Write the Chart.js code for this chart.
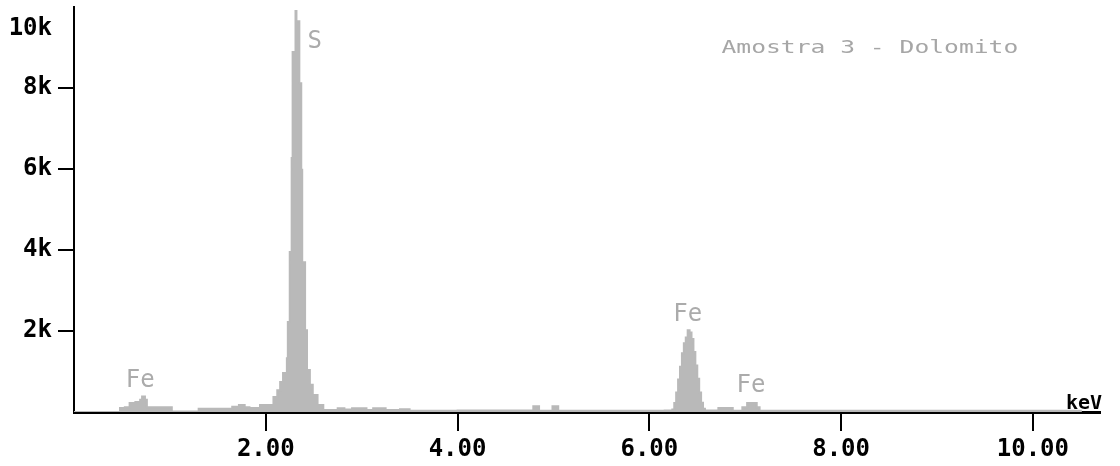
<!DOCTYPE html>
<html lang="pt">
<head>
    <meta charset="UTF-8">
    <title>Amostra 3 - Dolomito</title>
    <script src="https://cdn.jsdelivr.net/npm/chart.js"></script>
    <style>
        body { margin: 0; background: #fff; }
    </style>
</head>
<body>
    <canvas id="edsChart" width="1120" height="466"></canvas>

    <script>
        // Spectrum: left edge of each step (keV) and counts
        const energy = [
            0.00, 0.48, 0.53, 0.58, 0.64, 0.69, 0.71, 0.74, 0.76, 1.02,
            1.30, 1.65, 1.72, 1.78, 1.83, 1.94, 2.08, 2.12, 2.15, 2.18,
            2.22, 2.23, 2.25, 2.27, 2.28, 2.31, 2.32, 2.35, 2.37, 2.38,
            2.41, 2.43, 2.46, 2.49, 2.54, 2.60, 2.75, 2.82, 2.90, 3.05,
            3.12, 3.25, 3.40, 3.50, 4.00, 4.79, 4.85, 4.99, 5.05, 6.16,
            6.24, 6.26, 6.28, 6.30, 6.32, 6.34, 6.36, 6.38, 6.40, 6.42,
            6.44, 6.46, 6.48, 6.50, 6.52, 6.54, 6.56, 6.58, 6.72, 6.87,
            6.97, 7.02, 7.12, 7.15, 10.50
        ];
        const counts = [
            0, 100, 120, 220, 250, 300, 380, 300, 120, 10,
            80, 130, 170, 120, 100, 170, 370, 540, 740, 960,
            1330, 2220, 3950, 6270, 8890, 9900, 9650, 8120, 5980, 3700,
            2020, 1040, 670, 420, 170, 50, 90, 60, 90, 50,
            90, 50, 70, 30, 40, 140, 30, 140, 30, 40,
            60, 220, 480, 800, 1120, 1450, 1700, 1840, 2020, 1960,
            1800, 1480, 1150, 820, 480, 230, 80, 40, 100, 30,
            120, 220, 120, 30, 0
        ];

        // Axis ticks
        const xTicks = [2, 4, 6, 8, 10];
        const yTicks = [2000, 4000, 6000, 8000];

        // Element labels over the peaks (keV, counts)
        const peakNames = ['Fe', 'S', 'Fe', 'Fe'];
        const peakEnergy = [0.69, 2.51, 6.40, 7.06];
        const peakCounts = [620, 8990, 2250, 494];

        const sampleTitle = 'Amostra 3 - Dolomito';
        const mono = '"DejaVu Sans Mono", monospace';
        const fillGrey = '#b9b9b9';

        // Draws the title, peak names, full-scale label and unit
        const textPlugin = {
            id: 'spectrumText',
            afterDatasetsDraw(chart) {
                const ctx = chart.ctx;
                const xs = chart.scales.x;
                const ys = chart.scales.y;
                const area = chart.chartArea;
                ctx.save();

                // peak names
                ctx.fillStyle = '#ababab';
                ctx.font = '24px ' + mono;
                ctx.textAlign = 'center';
                ctx.textBaseline = 'alphabetic';
                peakNames.forEach((name, i) => {
                    ctx.fillText(name, xs.getPixelForValue(peakEnergy[i]), ys.getPixelForValue(peakCounts[i]));
                });

                // sample title, stretched wide like the instrument font
                const tx = xs.getPixelForValue(8.3);
                const ty = ys.getPixelForValue(8860);
                ctx.save();
                ctx.translate(tx, ty);
                ctx.scale(1.45, 1);
                ctx.font = '17px ' + mono;
                ctx.fillStyle = '#a6a6a6';
                ctx.fillText(sampleTitle, 0, 0);
                ctx.restore();

                // full scale label
                ctx.fillStyle = '#000';
                ctx.font = 'bold 24px ' + mono;
                ctx.textAlign = 'right';
                ctx.fillText('10k', area.left - 22, 35);

                // unit
                ctx.font = 'bold 20px ' + mono;
                ctx.fillText('keV', area.right + 2, area.bottom - 3);
                ctx.restore();
            }
        };

        const ctx = document.getElementById('edsChart').getContext('2d');
        new Chart(ctx, {
            type: 'line',
            data: {
                datasets: [{
                    label: sampleTitle,
                    data: energy.map((e, i) => ({ x: e, y: counts[i] })),
                    stepped: true,
                    fill: 'origin',
                    backgroundColor: fillGrey,
                    borderColor: fillGrey,
                    borderWidth: 2,
                    pointRadius: 0,
                }]
            },
            options: {
                responsive: false,
                animation: false,
                layout: { padding: { top: 7, right: 20, left: 0, bottom: 0 } },
                plugins: {
                    legend: { display: false },
                    tooltip: { enabled: false },
                },
                scales: {
                    x: {
                        type: 'linear',
                        min: 0,
                        max: 10.7,
                        afterBuildTicks: (scale) => { scale.ticks = xTicks.map(v => ({ value: v })); },
                        afterFit: (scale) => {
                            scale.height = 54;
                            scale.paddingLeft = 0;
                            scale.paddingRight = 0;
                        },
                        border: { color: '#000', width: 3 },
                        grid: { drawOnChartArea: false, drawTicks: true, tickLength: 19, color: '#000', lineWidth: 2 },
                        ticks: {
                            color: '#000',
                            padding: 4,
                            maxRotation: 0,
                            font: { family: mono, size: 24, weight: 'bold' },
                            callback: (v) => Number(v).toFixed(2),
                        },
                    },
                    y: {
                        min: 0,
                        max: 10000,
                        afterBuildTicks: (scale) => { scale.ticks = yTicks.map(v => ({ value: v })); },
                        afterFit: (scale) => {
                            scale.width = 74;
                            scale.paddingTop = 0;
                            scale.paddingBottom = 0;
                        },
                        border: { color: '#000', width: 2 },
                        grid: { drawOnChartArea: false, drawTicks: true, tickLength: 16, color: '#000', lineWidth: 2 },
                        ticks: {
                            color: '#000',
                            padding: 6,
                            font: { family: mono, size: 24, weight: 'bold' },
                            callback: (v) => (v / 1000) + 'k',
                        },
                    },
                },
            },
            plugins: [textPlugin],
        });
    </script>
</body>
</html>
